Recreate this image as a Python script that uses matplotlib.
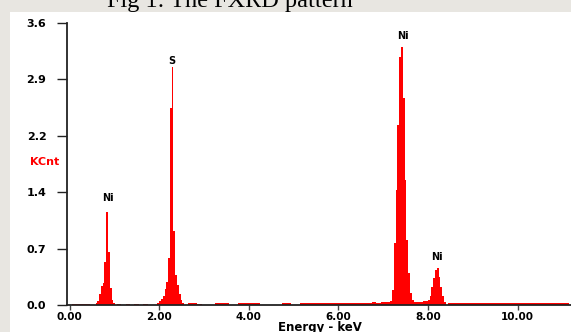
import matplotlib.pyplot as plt
from matplotlib.patches import Rectangle

# EDX spectrum, counts in KCnt, 0.04 keV channels around each peak
ni_l_energy = [0.60, 0.64, 0.68, 0.72, 0.76, 0.80, 0.84, 0.88, 0.92, 0.96, 1.00]
ni_l_counts = [0.02, 0.05, 0.14, 0.24, 0.28, 0.55, 1.19, 0.68, 0.22, 0.06, 0.02]

s_energy = [1.98, 2.02, 2.06, 2.10, 2.14, 2.18, 2.22, 2.26, 2.30, 2.34, 2.38, 2.42, 2.46, 2.50, 2.54]
s_counts = [0.02, 0.05, 0.08, 0.12, 0.20, 0.30, 0.60, 2.52, 3.04, 0.95, 0.38, 0.25, 0.14, 0.06, 0.02]

ni_ka_energy = [7.18, 7.22, 7.26, 7.30, 7.34, 7.38, 7.42, 7.46, 7.50, 7.54, 7.58, 7.62, 7.66]
ni_ka_counts = [0.05, 0.19, 0.79, 1.47, 2.30, 3.17, 3.29, 2.64, 1.60, 0.83, 0.41, 0.15, 0.06]

ni_kb_energy = [8.02, 8.06, 8.10, 8.14, 8.18, 8.22, 8.26, 8.30, 8.34, 8.38]
ni_kb_counts = [0.06, 0.11, 0.23, 0.34, 0.45, 0.47, 0.36, 0.23, 0.11, 0.04]

# low background, 0.1 keV bins
bg_energy = [0.1, 0.2, 0.3, 0.4, 1.1, 1.3, 1.5, 1.7, 2.7, 2.8, 2.9,
             3.3, 3.4, 3.5, 3.8, 3.9, 4.0, 4.1, 4.2, 4.8, 4.9,
             5.2, 5.3, 5.4, 5.5, 5.6, 5.7, 5.8, 5.9, 6.0, 6.1, 6.2, 6.3, 6.4,
             6.5, 6.6, 6.7, 6.8, 6.9, 7.0, 7.1, 7.75, 7.85, 7.95,
             8.5, 8.6, 8.7, 8.8, 8.9, 9.0, 9.1, 9.2, 9.3, 9.4, 9.5, 9.6, 9.7,
             9.8, 9.9, 10.0, 10.1, 10.2, 10.3, 10.4, 10.5, 10.6, 10.7, 10.8,
             10.9, 11.0, 11.1]
bg_counts = [0.01, 0.01, 0.01, 0.01, 0.01, 0.01, 0.01, 0.01, 0.02, 0.02, 0.01,
             0.03, 0.02, 0.03, 0.02, 0.03, 0.03, 0.02, 0.02, 0.03, 0.02,
             0.02, 0.03, 0.03, 0.02, 0.03, 0.03, 0.02, 0.03, 0.03, 0.03, 0.03, 0.03, 0.03,
             0.03, 0.03, 0.03, 0.04, 0.03, 0.04, 0.04, 0.04, 0.04, 0.05,
             0.02, 0.02, 0.02, 0.02, 0.02, 0.02, 0.02, 0.02, 0.02, 0.02, 0.02, 0.02, 0.03,
             0.02, 0.02, 0.02, 0.02, 0.02, 0.02, 0.02, 0.02, 0.02, 0.02, 0.02,
             0.02, 0.02, 0.02]

peak_names = ['Ni', 'S', 'Ni', 'Ni']
peak_x = [0.85, 2.29, 7.44, 8.21]
peak_label_y = [1.37, 3.11, 3.43, 0.61]

x_ticks = [0, 2, 4, 6, 8, 10]
x_ticklabels = ['0.00', '2.00', '4.00', '6.00', '8.00', '10.00']
y_ticks = [0.0, 0.72, 1.44, 2.16, 2.88, 3.6]
y_ticklabels = ['0.0', '0.7', '1.4', '2.2', '2.9', '3.6']

W, H = 571, 332
fig = plt.figure(figsize=(W / 100, H / 100), dpi=100)
fig.patch.set_facecolor('#e8e6e1')
fig.patches.append(Rectangle((10 / W, 0), 1, 1 - 12 / H, transform=fig.transFigure,
                             facecolor='white', edgecolor='none', zorder=-10))

fig.text(230 / W, 1 - 7 / H, 'Fig 1: The FXRD pattern', ha='center', va='baseline',
         fontsize=17.5, family='Liberation Serif', color='black')

ax = fig.add_axes([67.3 / W, 1 - 305 / H, (W - 67.3) / W, 282 / H])
ax.set_zorder(1)
ax.set_facecolor('none')

red = '#ff0000'
ax.bar(bg_energy, bg_counts, width=0.1, color=red, linewidth=0)
for e, c in [(ni_l_energy, ni_l_counts), (s_energy, s_counts),
             (ni_ka_energy, ni_ka_counts), (ni_kb_energy, ni_kb_counts)]:
    ax.bar(e, c, width=0.04, color=red, linewidth=0)

for name, x, y in zip(peak_names, peak_x, peak_label_y):
    ax.text(x, y, name, ha='center', va='center', fontsize=7, fontweight='bold')

ax.set_xlim(-0.05, (W - 69.5) / 44.8)
ax.set_ylim(0, 3.6)
ax.set_xticks(x_ticks)
ax.set_xticklabels(x_ticklabels, fontsize=7.5, fontweight='bold')
ax.set_yticks(y_ticks)
ax.set_yticklabels(y_ticklabels, fontsize=8, fontweight='bold')
ax.tick_params(axis='y', length=7, width=1, pad=8, color='#222222')
ax.tick_params(axis='x', length=3.5, width=1, pad=1.5, color='#444444')
for side in ['top', 'right']:
    ax.spines[side].set_visible(False)
for side in ['left', 'bottom']:
    ax.spines[side].set_linewidth(1.3)
    ax.spines[side].set_color('#222222')

fig.text(30 / W, 1 - 161.7 / H, 'KCnt', color=red, fontsize=8, fontweight='bold',
         ha='left', va='center')
fig.text(320 / W, 1 - 327 / H, 'Energy - keV', ha='center', va='center',
         fontsize=8.5, fontweight='bold')

fig.savefig('out.png', dpi=100, facecolor=fig.get_facecolor())
